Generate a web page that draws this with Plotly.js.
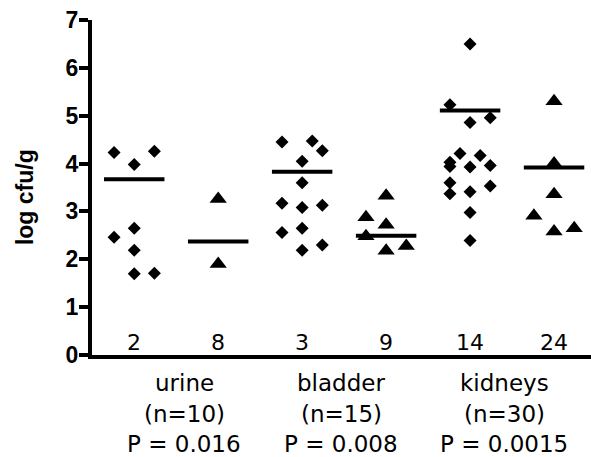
<!DOCTYPE html>
<html><head><meta charset="utf-8">
<script src="https://cdn.plot.ly/plotly-3.0.1.min.js"></script>
<style>html,body{margin:0;padding:0;background:#fff}</style>
</head><body><div id="chart" style="width:591px;height:457px"></div>
<script>
// ---- data (log cfu/g) ----
const strainLabels = ['2', '8', '3', '9', '14', '24'];
const groupNames = ['urine', 'bladder', 'kidneys'];
const groupN = ['(n=10)', '(n=15)', '(n=30)'];
const groupP = ['P = 0.016', 'P = 0.008', 'P = 0.0015'];

const urine2 = [4.23, 4.26, 3.98, 2.46, 2.65, 2.19, 1.70, 1.71];
const urine2Slot = [-2, 2, 0, -2, 0, 0, 0, 2];
const urine8 = [3.26, 1.90];
const urine8Slot = [0, 0];
const bladder3 = [4.45, 4.47, 4.27, 4.05, 3.60, 3.17, 3.08, 3.13, 2.56, 2.65, 2.19, 2.30];
const bladder3Slot = [-2, 1, 2, 0, 0, -2, 0, 2, -2, 0, 0, 2];
const bladder9 = [3.33, 2.88, 2.72, 2.48, 2.18, 2.28];
const bladder9Slot = [0, -2, 0, -2, 0, 2];
const kidney14 = [6.50, 5.23, 4.86, 4.96, 4.21, 4.17, 4.03, 3.94, 3.93, 3.96, 3.60, 3.37, 3.41, 3.53, 2.98, 2.39];
const kidney14Slot = [0, -2, 0, 2, -1, 1, -2, -2, 0, 2, -2, -2, 0, 2, 0, 0];
const kidney24 = [5.30, 4.00, 3.36, 2.91, 2.58, 2.65];
const kidney24Slot = [0, 0, 0, -2, 0, 2];
const columnMeans = [3.67, 2.37, 3.83, 2.49, 5.11, 3.92];

// ---- build traces ----
const columns = [
  [urine2, urine2Slot], [urine8, urine8Slot],
  [bladder3, bladder3Slot], [bladder9, bladder9Slot],
  [kidney14, kidney14Slot], [kidney24, kidney24Slot]
];
const SLOT = 0.12, HALF = 0.36;
const traces = [];
columns.forEach(function (col, i) {
  traces.push({
    type: 'scatter', mode: 'lines', hoverinfo: 'skip', showlegend: false,
    x: [i - HALF, i + HALF], y: [columnMeans[i], columnMeans[i]],
    line: {color: '#000', width: 4}
  });
});
columns.forEach(function (col, i) {
  const vals = col[0], slots = col[1];
  traces.push({
    type: 'scatter', mode: 'markers', showlegend: false,
    x: vals.map(function (v, k) { return i + slots[k] * SLOT; }),
    y: vals,
    marker: {
      color: '#000',
      symbol: (i % 2 === 0) ? 'diamond' : 'triangle-up',
      size: (i % 2 === 0) ? 10 : 15,
      line: {width: 0}
    },
    cliponaxis: false
  });
});

// ---- annotations ----
const annotations = [];
strainLabels.forEach(function (t, i) {
  annotations.push({
    text: t, x: i, xref: 'x', y: 0, yref: 'y', yanchor: 'middle', xanchor: 'center',
    yshift: 12.5, showarrow: false,
    font: {family: 'DejaVu Sans', size: 22, color: '#000'}
  });
});
const groupShift = [8, -3, -8];
const lineShift = [-28, -59, -89];
groupNames.forEach(function (g, j) {
  [g, groupN[j], groupP[j]].forEach(function (t, k) {
    annotations.push({
      text: t, x: 2 * j + 0.5, xref: 'x', xshift: groupShift[j],
      y: 0, yref: 'paper', yanchor: 'middle', yshift: lineShift[k],
      showarrow: false,
      font: {family: 'DejaVu Sans', size: 23, color: '#000'}
    });
  });
});
annotations.push({
  text: 'log cfu/g', textangle: -90, x: 0, xref: 'paper', xanchor: 'center', xshift: -67,
  y: 3.3, yref: 'y', yanchor: 'middle', showarrow: false,
  font: {family: 'Liberation Sans', size: 23, weight: 'bold', color: '#000'}
});

const layout = {
  width: 591, height: 457,
  margin: {l: 92, r: 0, t: 20, b: 102, pad: 0},
  paper_bgcolor: '#fff', plot_bgcolor: '#fff',
  showlegend: false,
  xaxis: {
    range: [-0.503, 5.44], showline: true, linewidth: 4, linecolor: '#000',
    showticklabels: false, ticks: '', showgrid: false, zeroline: false, fixedrange: true
  },
  yaxis: {
    range: [0, 7], tickvals: [0, 1, 2, 3, 4, 5, 6, 7], ticks: 'outside', ticklen: 9,
    tickwidth: 4, tickcolor: '#000', showline: true, linewidth: 4, linecolor: '#000',
    showgrid: false, zeroline: false, fixedrange: true, ticklabelstandoff: -4,
    tickfont: {family: 'Liberation Sans', size: 23, weight: 'bold', color: '#000'}
  },
  annotations: annotations
};

Plotly.newPlot('chart', traces, layout, {displayModeBar: false, staticPlot: true});
</script>
</body></html>
